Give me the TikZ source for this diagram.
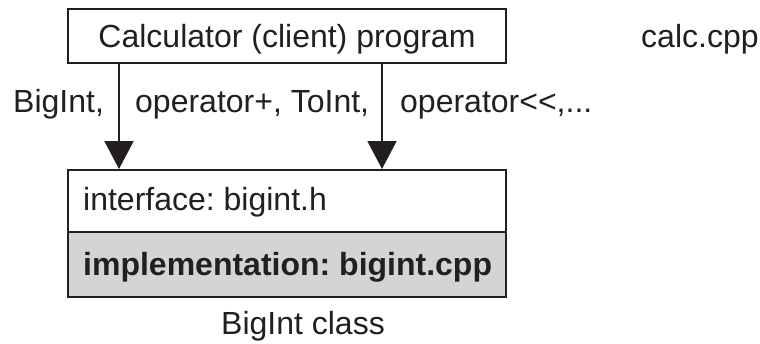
\documentclass[tikz,border=0pt]{standalone}
\usepackage{fontspec}
\setmainfont{Liberation Sans}
\usetikzlibrary{arrows.meta}
\definecolor{implgray}{RGB}{211,212,214}
\definecolor{ink}{RGB}{35,31,32}
\frenchspacing
\begin{document}
\begin{tikzpicture}[x=1pt,y=-1pt,
  box/.style={draw=ink, line width=2pt, minimum width=438pt, inner sep=0pt, rectangle},
  txt/.style={font=\fontsize{32}{38}\selectfont, inner sep=0pt, text=ink},
  arr/.style={draw=ink, line width=2pt, -{Triangle[width=29pt,length=28pt]}}]
\useasboundingbox (0,0) rectangle (760,343);
\node[box, minimum height=54pt] (client) at (287,36) {};
\node[box, minimum height=62pt] (iface) at (287,201) {};
\node[box, minimum height=65pt, fill=implgray] (impl) at (287,264.5) {};
\node[txt, anchor=base] (clienttext) at (287,47) {Calculator (client) program};
\node[txt, anchor=base west] (calc) at (641,47) {calc.cpp};
\node[txt, anchor=base west] (lab1) at (13,112) {BigInt,};
\node[txt, anchor=base west] (lab2) at (135,112) {operator+, ToInt,};
\node[txt, anchor=base west] (lab3) at (400,112) {operator\mbox{<}\mbox{<},...};
\node[txt, anchor=base west] (ifacetext) at (83,210) {interface: bigint.h};
\node[txt, anchor=base west, font=\fontsize{32}{38}\selectfont\bfseries] (impltext) at (83,275) {implementation: bigint.cpp};
\node[txt, anchor=base] (classname) at (303,334) {BigInt class};
\draw[arr] ([xshift=-168pt]client.south) -- ([xshift=-168pt]iface.north);
\draw[arr] ([xshift=95pt]client.south) -- ([xshift=95pt]iface.north);
\end{tikzpicture}
\end{document}
